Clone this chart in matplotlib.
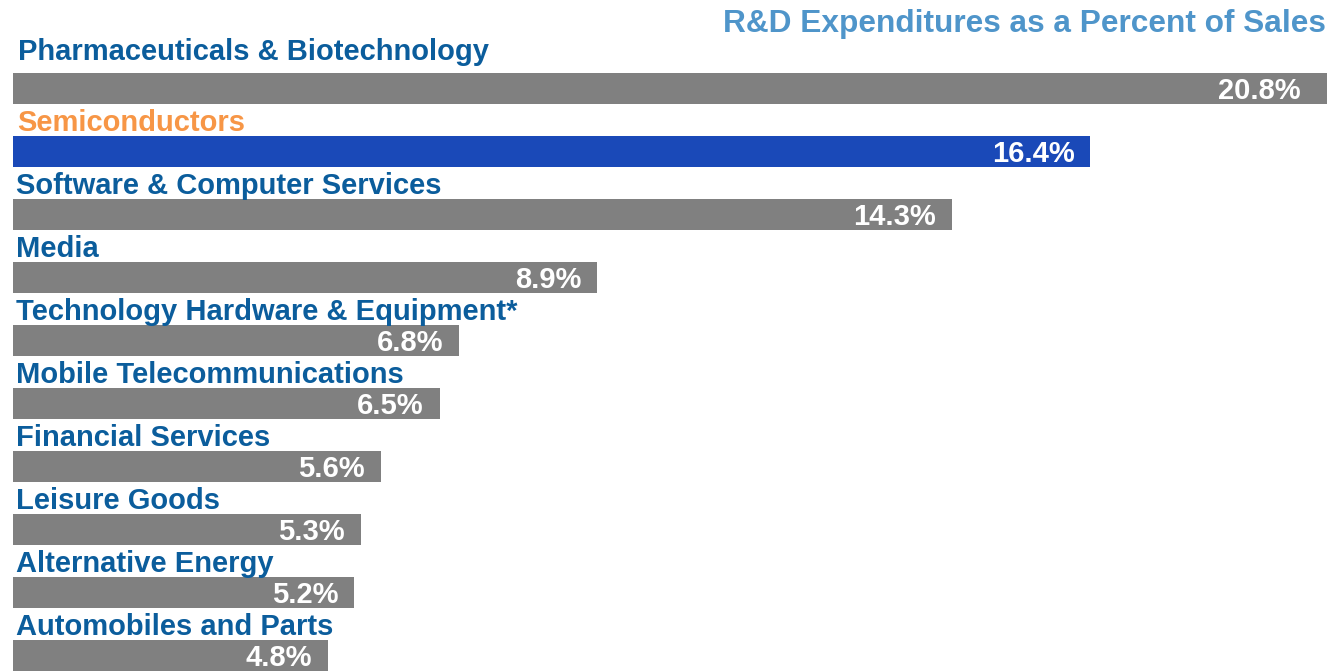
import numpy as np
import matplotlib
matplotlib.use('Agg')
import matplotlib.pyplot as plt

plt.rcParams['font.family'] = ['Liberation Sans', 'DejaVu Sans']

categories = [
    'Pharmaceuticals & Biotechnology',
    'Semiconductors',
    'Software & Computer Services',
    'Media',
    'Technology Hardware & Equipment*',
    'Mobile Telecommunications',
    'Financial Services',
    'Leisure Goods',
    'Alternative Energy',
    'Automobiles and Parts',
]
values = [20.8, 16.4, 14.3, 8.9, 6.8, 6.5, 5.6, 5.3, 5.2, 4.8]
highlight = 'Semiconductors'
title = 'R&D Expenditures as a Percent of Sales'

c_bar = '#808080'
c_bar_hi = '#1a49b8'
c_label = '#0b5d9c'
c_label_hi = '#f79646'
c_title = '#4f95ca'

fig = plt.figure(figsize=(13.33, 6.71), dpi=100)
fig.patch.set_facecolor('white')
ax = fig.add_axes([12.5/1333, 0, (1327-12.5)/1333, 1])
xmax = 20.0
ax.set_xlim(0, xmax)
pitch = 63.0
ax.set_ylim((671-88.5)/pitch, -88.5/pitch)
ax.axis('off')

ypos = np.arange(len(categories))
colors = [c_bar_hi if c == highlight else c_bar for c in categories]
bh = 31/pitch
ax.barh(ypos, values, height=bh, color=colors, clip_on=True)

for i, (cat, v) in enumerate(zip(categories, values)):
    lc = c_label_hi if cat == highlight else c_label
    # first label sits a bit higher above its bar
    dy = 7 if i == 0 else -1
    dx = 5 if i < 2 else 3
    ax.annotate(cat, (0, i - bh/2), xytext=(dx, dy), textcoords='offset pixels',
                ha='left', va='bottom', fontsize=21, fontweight='bold', color=lc)
    xend = min(v, xmax)
    ax.annotate(f'{v:.1f}%', (xend, i + bh/2), xytext=(-16 if v <= xmax else -26, -1),
                textcoords='offset pixels',
                ha='right', va='bottom', fontsize=21, fontweight='bold', color='white')

fig.text(1326/1333, 1 - 9/671, title, ha='right', va='top', fontsize=22.8,
         fontweight='bold', color=c_title)

fig.savefig('out.png', dpi=100)
